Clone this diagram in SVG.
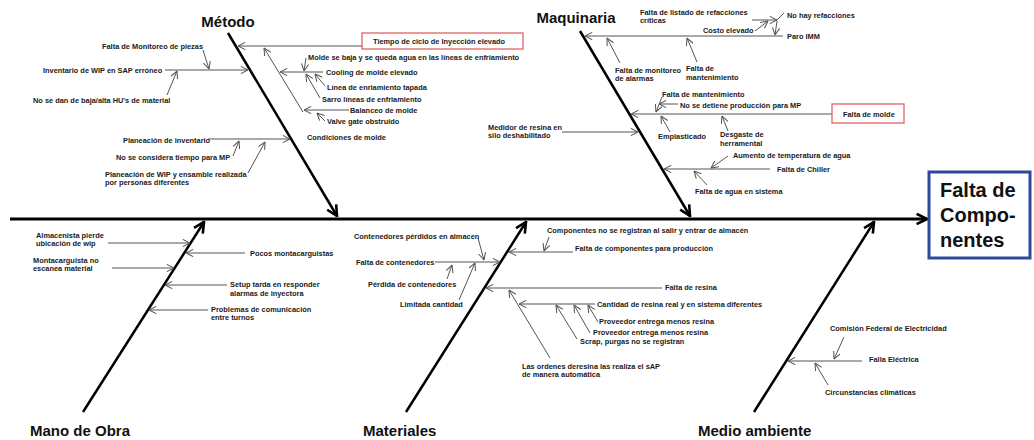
<svg xmlns="http://www.w3.org/2000/svg" width="1034" height="440" viewBox="0 0 1034 440">
<defs>
<marker id="a" viewBox="0 0 10 10" refX="9.5" refY="5" markerWidth="8" markerHeight="8" markerUnits="userSpaceOnUse" orient="auto"><path d="M0.5,0.5 L9.5,5 L0.5,9.5" fill="none" stroke="#555" stroke-width="1.3"/></marker>
<marker id="b" viewBox="0 0 10 10" refX="9" refY="5" markerWidth="13" markerHeight="13" markerUnits="userSpaceOnUse" orient="auto"><path d="M1,1 L9,5 L1,9" fill="none" stroke="#000" stroke-width="2"/></marker>
</defs>
<style>
.t{font-family:"Liberation Sans",Arial,sans-serif;font-weight:bold;font-size:7.4px;fill:#1a1a1a}
.h{font-family:"Liberation Sans",Arial,sans-serif;font-weight:bold;font-size:15px;fill:#111}
.e{font-family:"Liberation Sans",Arial,sans-serif;font-weight:bold;font-size:20px;fill:#111}
.c{stroke:#555;stroke-width:1;fill:none;marker-end:url(#a)}
.n{stroke:#555;stroke-width:1;fill:none}
.bone{stroke:#000;stroke-width:2.5;fill:none;marker-end:url(#b)}
.rb{fill:#fff;stroke:#e05555;stroke-width:1.2}
</style>
<rect width="1034" height="440" fill="#fff"/>

<g id="connectors">
<line class="bone" x1="10" y1="219" x2="927" y2="219" style="stroke-width:3"/>
<line class="bone" x1="228" y1="33" x2="337" y2="216"/>
<line class="bone" x1="580" y1="31" x2="690" y2="216"/>
<line class="bone" x1="83" y1="412" x2="204" y2="222"/>
<line class="bone" x1="406" y1="412" x2="526" y2="222"/>
<line class="bone" x1="754" y1="412" x2="874" y2="222"/>
<!-- Metodo -->
<line class="c" x1="203" y1="50" x2="209" y2="69"/>
<line class="c" x1="165" y1="70" x2="248" y2="70"/>
<line class="c" x1="167" y1="95" x2="177" y2="71"/>
<line class="c" x1="362" y1="46" x2="238" y2="46"/>
<line class="c" x1="303" y1="112" x2="264" y2="48"/>
<line class="c" x1="323" y1="72" x2="280" y2="72"/>
<line class="c" x1="306" y1="58" x2="304" y2="71"/>
<line class="c" x1="325" y1="86" x2="315" y2="74"/>
<line class="c" x1="320" y1="98" x2="306" y2="74"/>
<line class="c" x1="349" y1="110" x2="304" y2="110"/>
<line class="c" x1="325" y1="121" x2="317" y2="113"/>
<line class="c" x1="208" y1="139" x2="290" y2="139"/>
<line class="c" x1="233" y1="156" x2="239" y2="141"/>
<line class="c" x1="248" y1="173" x2="265" y2="142"/>
<!-- Maquinaria -->
<line class="c" x1="783" y1="36" x2="585" y2="36"/>
<line class="c" x1="620" y1="63" x2="607" y2="38"/>
<line class="c" x1="697" y1="62" x2="687" y2="38"/>
<line class="c" x1="752" y1="20" x2="777" y2="20"/>
<line class="n" x1="784" y1="13" x2="777" y2="20"/>
<line class="c" x1="777" y1="21" x2="775" y2="35"/>
<line class="c" x1="755" y1="31" x2="768" y2="21"/>
<line class="c" x1="832" y1="114" x2="631" y2="114"/>
<line class="c" x1="662" y1="97" x2="656" y2="112"/>
<line class="c" x1="678" y1="104" x2="659" y2="104"/>
<line class="c" x1="670" y1="132" x2="661" y2="116"/>
<line class="c" x1="728" y1="131" x2="722" y2="116"/>
<line class="c" x1="562" y1="132" x2="638" y2="132"/>
<line class="c" x1="770" y1="169" x2="664" y2="169"/>
<line class="c" x1="728" y1="156" x2="711" y2="168"/>
<line class="c" x1="707" y1="185" x2="694" y2="171"/>
<!-- Mano de Obra -->
<line class="c" x1="108" y1="243" x2="190" y2="243"/>
<line class="c" x1="245" y1="253" x2="186" y2="253"/>
<line class="c" x1="112" y1="268" x2="174" y2="268"/>
<line class="c" x1="227" y1="285" x2="165" y2="285"/>
<line class="c" x1="208" y1="310" x2="149" y2="310"/>
<!-- Materiales -->
<line class="c" x1="478" y1="238" x2="484" y2="260"/>
<line class="c" x1="435" y1="262" x2="500" y2="262"/>
<line class="c" x1="447" y1="279" x2="452" y2="265"/>
<line class="c" x1="459" y1="300" x2="475" y2="263"/>
<line class="c" x1="549" y1="237" x2="544" y2="251"/>
<line class="c" x1="573" y1="252" x2="509" y2="252"/>
<line class="c" x1="662" y1="288" x2="486" y2="288"/>
<line class="c" x1="550" y1="358" x2="509" y2="290"/>
<line class="c" x1="595" y1="304" x2="519" y2="304"/>
<line class="c" x1="598" y1="322" x2="588" y2="305"/>
<line class="c" x1="590" y1="333" x2="574" y2="305"/>
<line class="c" x1="577" y1="339" x2="556" y2="305"/>
<!-- Medio ambiente -->
<line class="c" x1="862" y1="361" x2="788" y2="361"/>
<line class="c" x1="844" y1="337" x2="834" y2="359"/>
<line class="c" x1="828" y1="385" x2="815" y2="363"/>
</g>

<g id="effect">
<rect x="929" y="172" width="101" height="86" fill="#fff" stroke="#2b4a9b" stroke-width="3"/>
<text class="e" x="940" y="197">Falta de</text>
<text class="e" x="940" y="222">Compo-</text>
<text class="e" x="940" y="247">nentes</text>
</g>

<g id="metodo">
<text class="h" x="228" y="27" text-anchor="middle">Método</text>
<text class="t" x="102" y="49">Falta de Monitoreo de piezas</text>
<text class="t" x="43" y="73">Inventario de WIP en SAP erróneo</text>
<text class="t" x="33" y="103">No se dan de baja/alta HU's de material</text>
<rect class="rb" x="362" y="33" width="161" height="16"/>
<text class="t" x="373" y="44">Tiempo de ciclo de Inyección elevado</text>
<text class="t" x="308" y="60">Molde se baja y se queda agua en las líneas de enfriamiento</text>
<text class="t" x="326" y="75">Cooling de molde elevado</text>
<text class="t" x="327" y="89.5">Línea de enriamiento tapada</text>
<text class="t" x="322" y="101.5">Sarro líneas de enfriamiento</text>
<text class="t" x="350" y="112.5">Balanceo de molde</text>
<text class="t" x="327" y="124">Valve gate obstruido</text>
<text class="t" x="307" y="140">Condiciones de molde</text>
<text class="t" x="123" y="143">Planeación de inventario</text>
<text class="t" x="116" y="160">No se considera tiempo para MP</text>
<text class="t" x="105" y="176.5">Planeación de WIP y ensamble realizada</text>
<text class="t" x="105" y="185">por personas diferentes</text>
</g>

<g id="maquinaria">
<text class="h" x="576" y="23" text-anchor="middle">Maquinaria</text>
<text class="t" x="640" y="15">Falta de listado de refacciones</text>
<text class="t" x="640" y="23">críticas</text>
<text class="t" x="787" y="17.5">No hay refacciones</text>
<text class="t" x="703" y="33">Costo elevado</text>
<text class="t" x="787" y="38.5">Paro IMM</text>
<text class="t" x="615" y="72.5">Falta de monitoreo</text>
<text class="t" x="615" y="81">de alarmas</text>
<text class="t" x="686" y="71">Falta de</text>
<text class="t" x="686" y="80">mantenimiento</text>
<text class="t" x="662" y="97">Falta de mantenimiento</text>
<text class="t" x="680" y="107.5">No se detiene producción para MP</text>
<rect class="rb" x="832" y="104" width="72" height="19"/>
<text class="t" x="843" y="116.5">Falta de molde</text>
<text class="t" x="658" y="138.5">Emplasticado</text>
<text class="t" x="720" y="137">Desgaste de</text>
<text class="t" x="720" y="145.5">herramental</text>
<text class="t" x="488" y="130">Medidor de resina en</text>
<text class="t" x="488" y="138">silo deshabilitado</text>
<text class="t" x="733" y="157.5">Aumento de temperatura de agua</text>
<text class="t" x="777" y="172">Falta de Chiller</text>
<text class="t" x="695" y="194">Falta de agua en sistema</text>
</g>

<g id="mano-de-obra">
<text class="h" x="30" y="436">Mano de Obra</text>
<text class="t" x="36" y="237.5">Almacenista pierde</text>
<text class="t" x="36" y="246">ubicación de wip</text>
<text class="t" x="250" y="256">Pocos montacarguistas</text>
<text class="t" x="33" y="262.5">Montacarguista no</text>
<text class="t" x="33" y="271">escanea material</text>
<text class="t" x="230" y="286.5">Setup tarda en responder</text>
<text class="t" x="230" y="295.5">alarmas de inyectora</text>
<text class="t" x="211" y="311.5">Problemas de comunicación</text>
<text class="t" x="211" y="320">entre turnos</text>
</g>

<g id="materiales">
<text class="h" x="363" y="436">Materiales</text>
<text class="t" x="354" y="238.5">Contenedores pérdidos en almacen</text>
<text class="t" x="356" y="265">Falta de contenedores</text>
<text class="t" x="368" y="286.5">Pérdida de contenedores</text>
<text class="t" x="400" y="306.5">Limitada cantidad</text>
<text class="t" x="547" y="232.5">Componentes no se registran al salir y entrar de almacén</text>
<text class="t" x="575" y="250.5">Falta de componentes para producción</text>
<text class="t" x="665" y="289.5">Falta de resina</text>
<text class="t" x="597" y="306.5">Cantidad de resina real y en sistema diferentes</text>
<text class="t" x="599" y="324">Proveedor entrega menos resina</text>
<text class="t" x="593" y="335">Proveedor entrega menos resina</text>
<text class="t" x="580" y="344">Scrap, purgas no se registran</text>
<text class="t" x="522" y="368.5">Las ordenes deresina las realiza el sAP</text>
<text class="t" x="522" y="377">de manera automática</text>
</g>

<g id="medio-ambiente">
<text class="h" x="698" y="436">Medio ambiente</text>
<text class="t" x="830" y="331">Comisión Federal de Electricidad</text>
<text class="t" x="869" y="362">Falla Eléctrica</text>
<text class="t" x="825" y="395">Circunstancias climáticas</text>
</g>
</svg>
